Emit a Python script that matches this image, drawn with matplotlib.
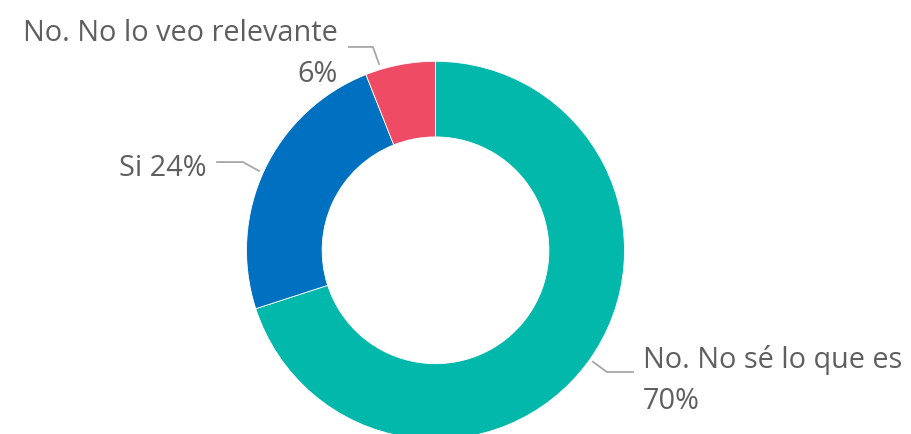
import numpy as np
import matplotlib
matplotlib.use("Agg")
import matplotlib.pyplot as plt

# Data
labels = ["No. No sé lo que es", "Si", "No. No lo veo relevante"]
values = [70, 24, 6]
colors = ["#01B8AA", "#0070C0", "#F04B64"]

plt.rcParams['font.family'] = ['Open Sans', 'DejaVu Sans']

fig = plt.figure(figsize=(9.11, 4.35), dpi=100)
# square axes, pie centre at ~ (435, 251) px, radius ~189 px
ax = fig.add_axes([0.2706, -0.0122, 0.4149, 0.869])

wedges, _ = ax.pie(values, colors=colors, startangle=90, counterclock=False,
                   radius=1, wedgeprops=dict(width=0.4, edgecolor='white', linewidth=0.6))
ax.set_xlim(-1, 1)
ax.set_ylim(-1, 1)
ax.axis('off')

# leader line layout: (start, elbow, end), text anchor, alignment, text
layout = [
    ((0.833, -0.59), (0.907, -0.644), (1.045, -0.644), (1.098, -0.686), 'left',
     "{}\n{}%"),
    ((-0.934, 0.42), (-1.019, 0.467), (-1.156, 0.467), (-1.209, 0.437), 'right',
     "{} {}%"),
    ((-0.299, 0.986), (-0.331, 1.076), (-0.458, 1.076), (-0.516, 1.045), 'right',
     "{}\n{}%"),
]

for (lab, val), (p0, p1, p2, tp, ha, fmt) in zip(zip(labels, values), layout):
    xs = [p0[0], p1[0], p2[0]]
    ys = [p0[1], p1[1], p2[1]]
    ax.plot(xs, ys, color='#A6A6A6', lw=1.3, clip_on=False)
    ax.text(tp[0], tp[1], fmt.format(lab, val), ha=ha, va='center', ma=ha,
            fontsize=20.8, color='#5F5F5F', linespacing=1.55, clip_on=False)

plt.savefig("out.png", dpi=100)
